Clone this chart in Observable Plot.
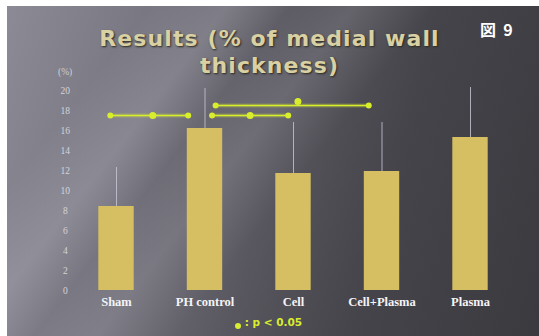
<!DOCTYPE html>
<html>
<head>
<meta charset="utf-8">
<script src="https://cdn.jsdelivr.net/npm/d3@7"></script>
<script src="https://cdn.jsdelivr.net/npm/@observablehq/plot@0.6"></script>
<style>
  html, body { margin: 0; padding: 0; background: #ffffff; }
  #slide {
    position: absolute; left: 7px; top: 6px; width: 532px; height: 330px; overflow: hidden;
    background:
      linear-gradient(128deg, rgba(255,255,255,0) 18%, rgba(230,230,240,0.16) 28%, rgba(255,255,255,0) 36%, rgba(230,230,240,0.12) 44%, rgba(255,255,255,0) 54%),
      linear-gradient(105deg, #8c8a94 0%, #77757f 25%, #58565e 50%, #45444a 70%, #3b3a3f 100%);
  }
  #chart { position: absolute; left: -7px; top: 74px; }
  .title {
    position: absolute; left: -7px; width: 539px; text-align: center;
    font-family: "DejaVu Sans", sans-serif; font-weight: bold; font-size: 22px;
    color: #d9d1a3; letter-spacing: 1.1px; text-shadow: 1px 1px 2px #2a2a20;
  }
  .fig { position: absolute; left: 473px; top: 11px; color: #ffffff; font-size: 16px; font-weight: bold;
    font-family: "Noto Sans CJK JP", sans-serif; white-space: pre; }
  .unit { position: absolute; left: 51px; top: 61px; color: #d0d0d8; font-size: 9.5px; font-family: "Liberation Serif", serif; }
  .legend { position: absolute; left: 228px; top: 310px; color: #d8ec30; font-size: 10.5px; font-weight: bold;
    font-family: "DejaVu Sans", sans-serif; white-space: pre; }
  .legend .dot { display: inline-block; width: 6px; height: 6px; border-radius: 3px; background: #d8ec30; position: relative; top: 3px; }
</style>
</head>
<body>
<div id="slide">
  <div class="title" style="top:20px;">Results (% of medial wall</div>
  <div class="title" style="top:47px;">thickness)</div>
  <div class="fig">図  9</div>
  <div class="unit">(%)</div>
  <div id="chart"></div>
  <div class="legend"><span class="dot"></span> : p &lt; 0.05</div>
</div>
<script>
const categories = ["Sham", "PH control", "Cell", "Cell+Plasma", "Plasma"];
const means = [8.4, 16.2, 11.7, 11.9, 15.3];
const errorTops = [12.3, 20.2, 16.8, 16.8, 20.3];
const yTicks = [0, 2, 4, 6, 8, 10, 12, 14, 16, 18, 20];

// significance brackets: start/end positions (in category-index units), level, and mid-marker
const bracketStart = [-0.07, 1.08, 1.12];
const bracketEnd = [0.81, 1.94, 2.85];
const bracketMid = [0.41, 1.51, 2.05];
const bracketLevel = [17.5, 17.5, 18.5];
const bracketMidLevel = [17.5, 17.5, 18.9];

const bars = categories.map((c, i) => ({i, c, v: means[i], e: errorTops[i]}));
const brackets = bracketStart.map((s, k) => ({s, e: bracketEnd[k], m: bracketMid[k], y: bracketLevel[k], my: bracketMidLevel[k]}));
const endDots = brackets.flatMap(b => [{x: b.s, y: b.y}, {x: b.e, y: b.y}]);

const green = "#d8ee2c";
const plot = Plot.plot({
  width: 539,
  height: 235,
  marginLeft: 71.75,
  marginRight: 24.75,
  marginTop: 10,
  marginBottom: 25,
  style: {background: "transparent", overflow: "visible"},
  x: {domain: [-0.5, 4.5], axis: null},
  y: {domain: [0, 20], axis: null},
  marks: [
    Plot.ruleX(bars, {x: "i", y1: "v", y2: "e", stroke: "#c8c8d8", strokeWidth: 1, strokeOpacity: 0.8}),
    Plot.rectY(bars, {x1: d => d.i - 0.2, x2: d => d.i + 0.2, y1: 0, y2: "v", fill: "#d5bf62"}),
    Plot.axisY({ticks: yTicks, tickSize: 0, tickPadding: 7, textAnchor: "middle", label: null,
      fontFamily: "Liberation Serif", fontSize: 9.5, fill: "#d4d4dc", tickFormat: d => String(d)}),
    Plot.axisX({ticks: [0, 1, 2, 3, 4], tickSize: 0, tickPadding: 7, label: null,
      tickFormat: d => categories[d], fontFamily: "Liberation Serif", fontWeight: "bold",
      fontSize: 12.5, fill: "#f4f4f8"}),
    Plot.link(brackets, {x1: "s", x2: "e", y1: "y", y2: "y", stroke: green, strokeWidth: 4, strokeOpacity: 0.25}),
    Plot.link(brackets, {x1: "s", x2: "e", y1: "y", y2: "y", stroke: green, strokeWidth: 1.6}),
    Plot.dot(endDots, {x: "x", y: "y", r: 3, fill: green}),
    Plot.dot(brackets, {x: "m", y: "my", r: 3.5, fill: green})
  ]
});
document.getElementById("chart").appendChild(plot);
</script>
</body>
</html>
